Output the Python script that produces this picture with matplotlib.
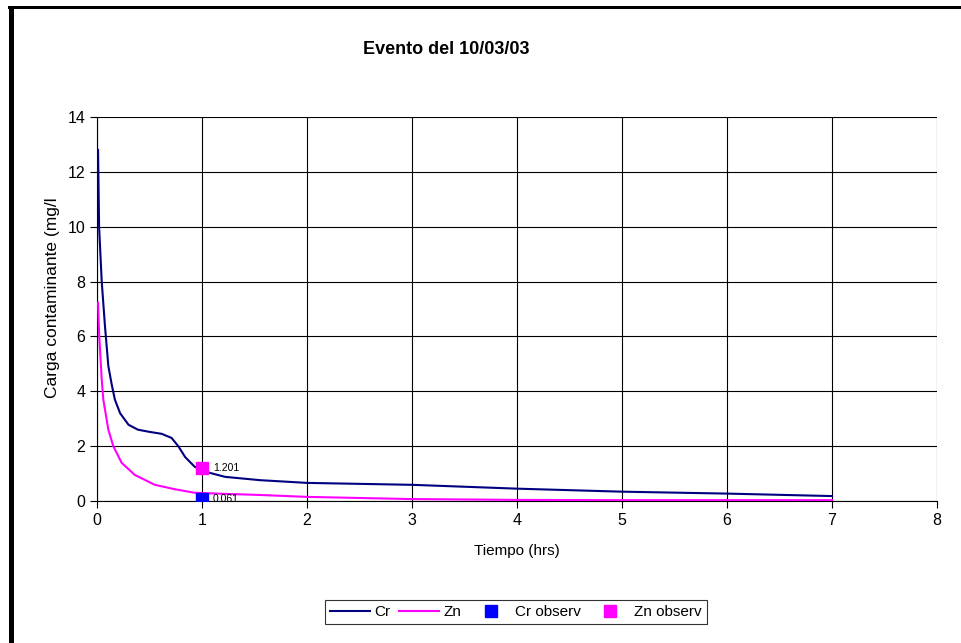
import matplotlib
matplotlib.use("Agg")
import matplotlib.pyplot as plt
from matplotlib.patches import Rectangle

plt.rcParams['font.family'] = ['Liberation Sans', 'DejaVu Sans']

title = "Evento del 10/03/03"
xlabel = "Tiempo (hrs)"
ylabel = "Carga contaminante (mg/l"

cr_t = [0.01, 0.02, 0.045, 0.076, 0.108, 0.14, 0.17, 0.22, 0.3, 0.39, 0.5, 0.615, 0.71, 0.774, 0.84, 0.93, 1.03, 1.22, 1.55, 2.0, 3, 4, 5, 6, 7]
cr_v = [12.8, 10.0, 8.0, 6.37, 4.92, 4.25, 3.7, 3.2, 2.78, 2.6, 2.52, 2.45, 2.3, 2.0, 1.6, 1.25, 1.07, 0.88, 0.76, 0.66, 0.59, 0.45, 0.34, 0.27, 0.18]

zn_t = [0.01, 0.02, 0.045, 0.06, 0.108, 0.155, 0.235, 0.36, 0.55, 0.74, 0.93, 1.22, 1.55, 2.0, 3, 4, 5, 6, 7]
zn_v = [7.23, 6.1, 4.43, 3.7, 2.6, 2.0, 1.39, 0.95, 0.59, 0.43, 0.3, 0.26, 0.22, 0.15, 0.07, 0.04, 0.03, 0.03, 0.03]

obs_t = [1.0]
cr_obs = [0.061]
zn_obs = [1.201]

fig = plt.figure(figsize=(9.61, 6.43), dpi=100)
ax = fig.add_axes([97/961, 1-501/643, 840/961, 384/643])

ax.plot(cr_t, cr_v, color='#000080', lw=1.5, label='Cr', zorder=3)
ax.plot(zn_t, zn_v, color='#FF00FF', lw=1.5, label='Zn', zorder=3)
ax.plot(obs_t, cr_obs, 's', color='#0000FF', ms=8, ls='none', label='Cr observ', zorder=4)
ax.plot(obs_t, zn_obs, 's', color='#FF00FF', ms=8, ls='none', label='Zn observ', zorder=4)
for t, v in zip(obs_t, cr_obs):
    ax.annotate(f"{v:.3f}", (t, v), xytext=(8, 0), textcoords='offset points', fontsize=7.5, va='center')
for t, v in zip(obs_t, zn_obs):
    ax.annotate(f"{v:.3f}", (t, v), xytext=(8, 0), textcoords='offset points', fontsize=7.5, va='center')

ax.set_xlim(0, 8)
ax.set_ylim(0, 14)
ax.set_xticks(range(0, 9))
ax.set_yticks(range(0, 15, 2))
ax.grid(True, color='black', lw=0.8)
ax.set_axisbelow(True)
for s in ['top', 'right']:
    ax.spines[s].set_visible(False)
for s in ['left', 'bottom']:
    ax.spines[s].set_color('black')
    ax.spines[s].set_linewidth(0.8)
ax.tick_params(direction='out', length=5, labelsize=11.5, width=0.8)

ax.set_xlabel(xlabel, fontsize=11, labelpad=12)
ax.set_ylabel(ylabel, fontsize=12.5, labelpad=10)
ax.yaxis.set_label_coords(-0.044, 0.53)
fig.text(446/961, 1-49/643, title, fontsize=13, fontweight='bold', ha='center', va='center')

leg = fig.legend(loc='center', bbox_to_anchor=(516/961, 1-612/643), ncol=4, fontsize=11,
                 frameon=True, fancybox=False, edgecolor='black', handlelength=2.6,
                 columnspacing=0.6, handletextpad=0.3, borderpad=0.35)
leg.get_frame().set_linewidth(0.8)

# outer frame (top and left thick lines)
fig.add_artist(Rectangle((8/961, 1-9/643), 953/961, 3.5/643, transform=fig.transFigure, color='black', lw=0))
fig.add_artist(Rectangle((9/961, 0), 4.5/961, 1-6/643, transform=fig.transFigure, color='black', lw=0))

fig.savefig('out.png', dpi=100)
